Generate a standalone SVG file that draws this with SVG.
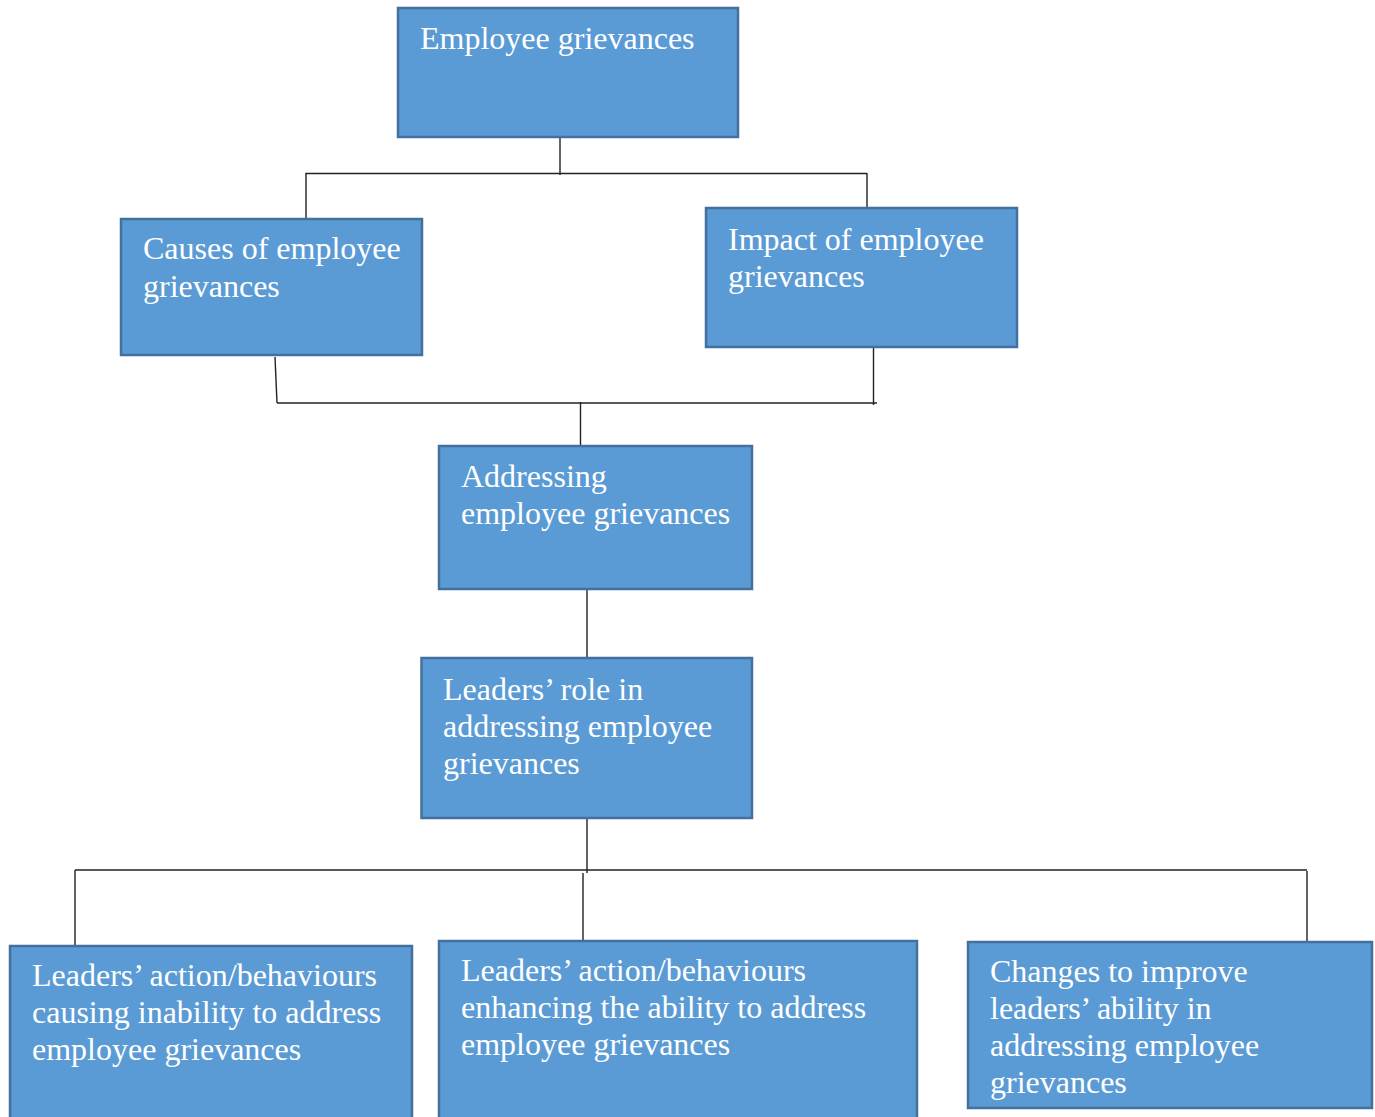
<svg xmlns="http://www.w3.org/2000/svg" width="1375" height="1117" viewBox="0 0 1375 1117">
<style>
.box{fill:#5B9BD5;stroke:#41719C;stroke-width:2.5}
.t{font-family:"Liberation Serif","Times New Roman",serif;font-size:32px;fill:#FFFFFF}
.c{stroke:#222222;stroke-width:1.4;fill:none}
</style>
<rect width="1375" height="1117" fill="#FFFFFF"/>
<g id="connectors">
<line class="c" x1="560" y1="138" x2="560" y2="175"/>
<line class="c" x1="305.5" y1="173.5" x2="867" y2="173.5"/>
<line class="c" x1="306" y1="173" x2="306" y2="219"/>
<line class="c" x1="867" y1="173" x2="867" y2="209"/>
<line class="c" x1="275" y1="357" x2="277" y2="403"/>
<line class="c" x1="277" y1="403" x2="877" y2="403"/>
<line class="c" x1="873.5" y1="348" x2="873.5" y2="405"/>
<line class="c" x1="580.5" y1="402" x2="580.5" y2="446"/>
<line class="c" x1="587" y1="589" x2="587" y2="658"/>
<line class="c" x1="587" y1="818" x2="587" y2="873"/>
<line class="c" x1="75" y1="870" x2="1307" y2="870"/>
<line class="c" x1="75" y1="870" x2="75" y2="946"/>
<line class="c" x1="583" y1="873" x2="583" y2="943"/>
<line class="c" x1="1307" y1="871" x2="1307" y2="942"/>
</g>
<g id="n1">
<rect class="box" x="398" y="8" width="340" height="129"/>
<text class="t" x="420" y="49">Employee grievances</text>
</g>
<g id="n2">
<rect class="box" x="121" y="219" width="301" height="136"/>
<text class="t" x="143" y="259">Causes of employee</text>
<text class="t" x="143" y="297">grievances</text>
</g>
<g id="n3">
<rect class="box" x="706" y="208" width="311" height="139"/>
<text class="t" x="728" y="250">Impact of employee</text>
<text class="t" x="728" y="287">grievances</text>
</g>
<g id="n4">
<rect class="box" x="439" y="446" width="313" height="143"/>
<text class="t" x="461" y="487">Addressing</text>
<text class="t" x="461" y="524">employee grievances</text>
</g>
<g id="n5">
<rect class="box" x="421.5" y="658" width="330.5" height="160"/>
<text class="t" x="443" y="700">Leaders’ role in</text>
<text class="t" x="443" y="737">addressing employee</text>
<text class="t" x="443" y="774">grievances</text>
</g>
<g id="n6">
<rect class="box" x="10" y="946" width="402" height="180"/>
<text class="t" x="32" y="986">Leaders’ action/behaviours</text>
<text class="t" x="32" y="1023">causing inability to address</text>
<text class="t" x="32" y="1060">employee grievances</text>
</g>
<g id="n7">
<rect class="box" x="439" y="941" width="478" height="185"/>
<text class="t" x="461" y="981">Leaders’ action/behaviours</text>
<text class="t" x="461" y="1018">enhancing the ability to address</text>
<text class="t" x="461" y="1055">employee grievances</text>
</g>
<g id="n8">
<rect class="box" x="968" y="942" width="404" height="166"/>
<text class="t" x="990" y="982">Changes to improve</text>
<text class="t" x="990" y="1019">leaders’ ability in</text>
<text class="t" x="990" y="1056">addressing employee</text>
<text class="t" x="990" y="1093">grievances</text>
</g>
</svg>
